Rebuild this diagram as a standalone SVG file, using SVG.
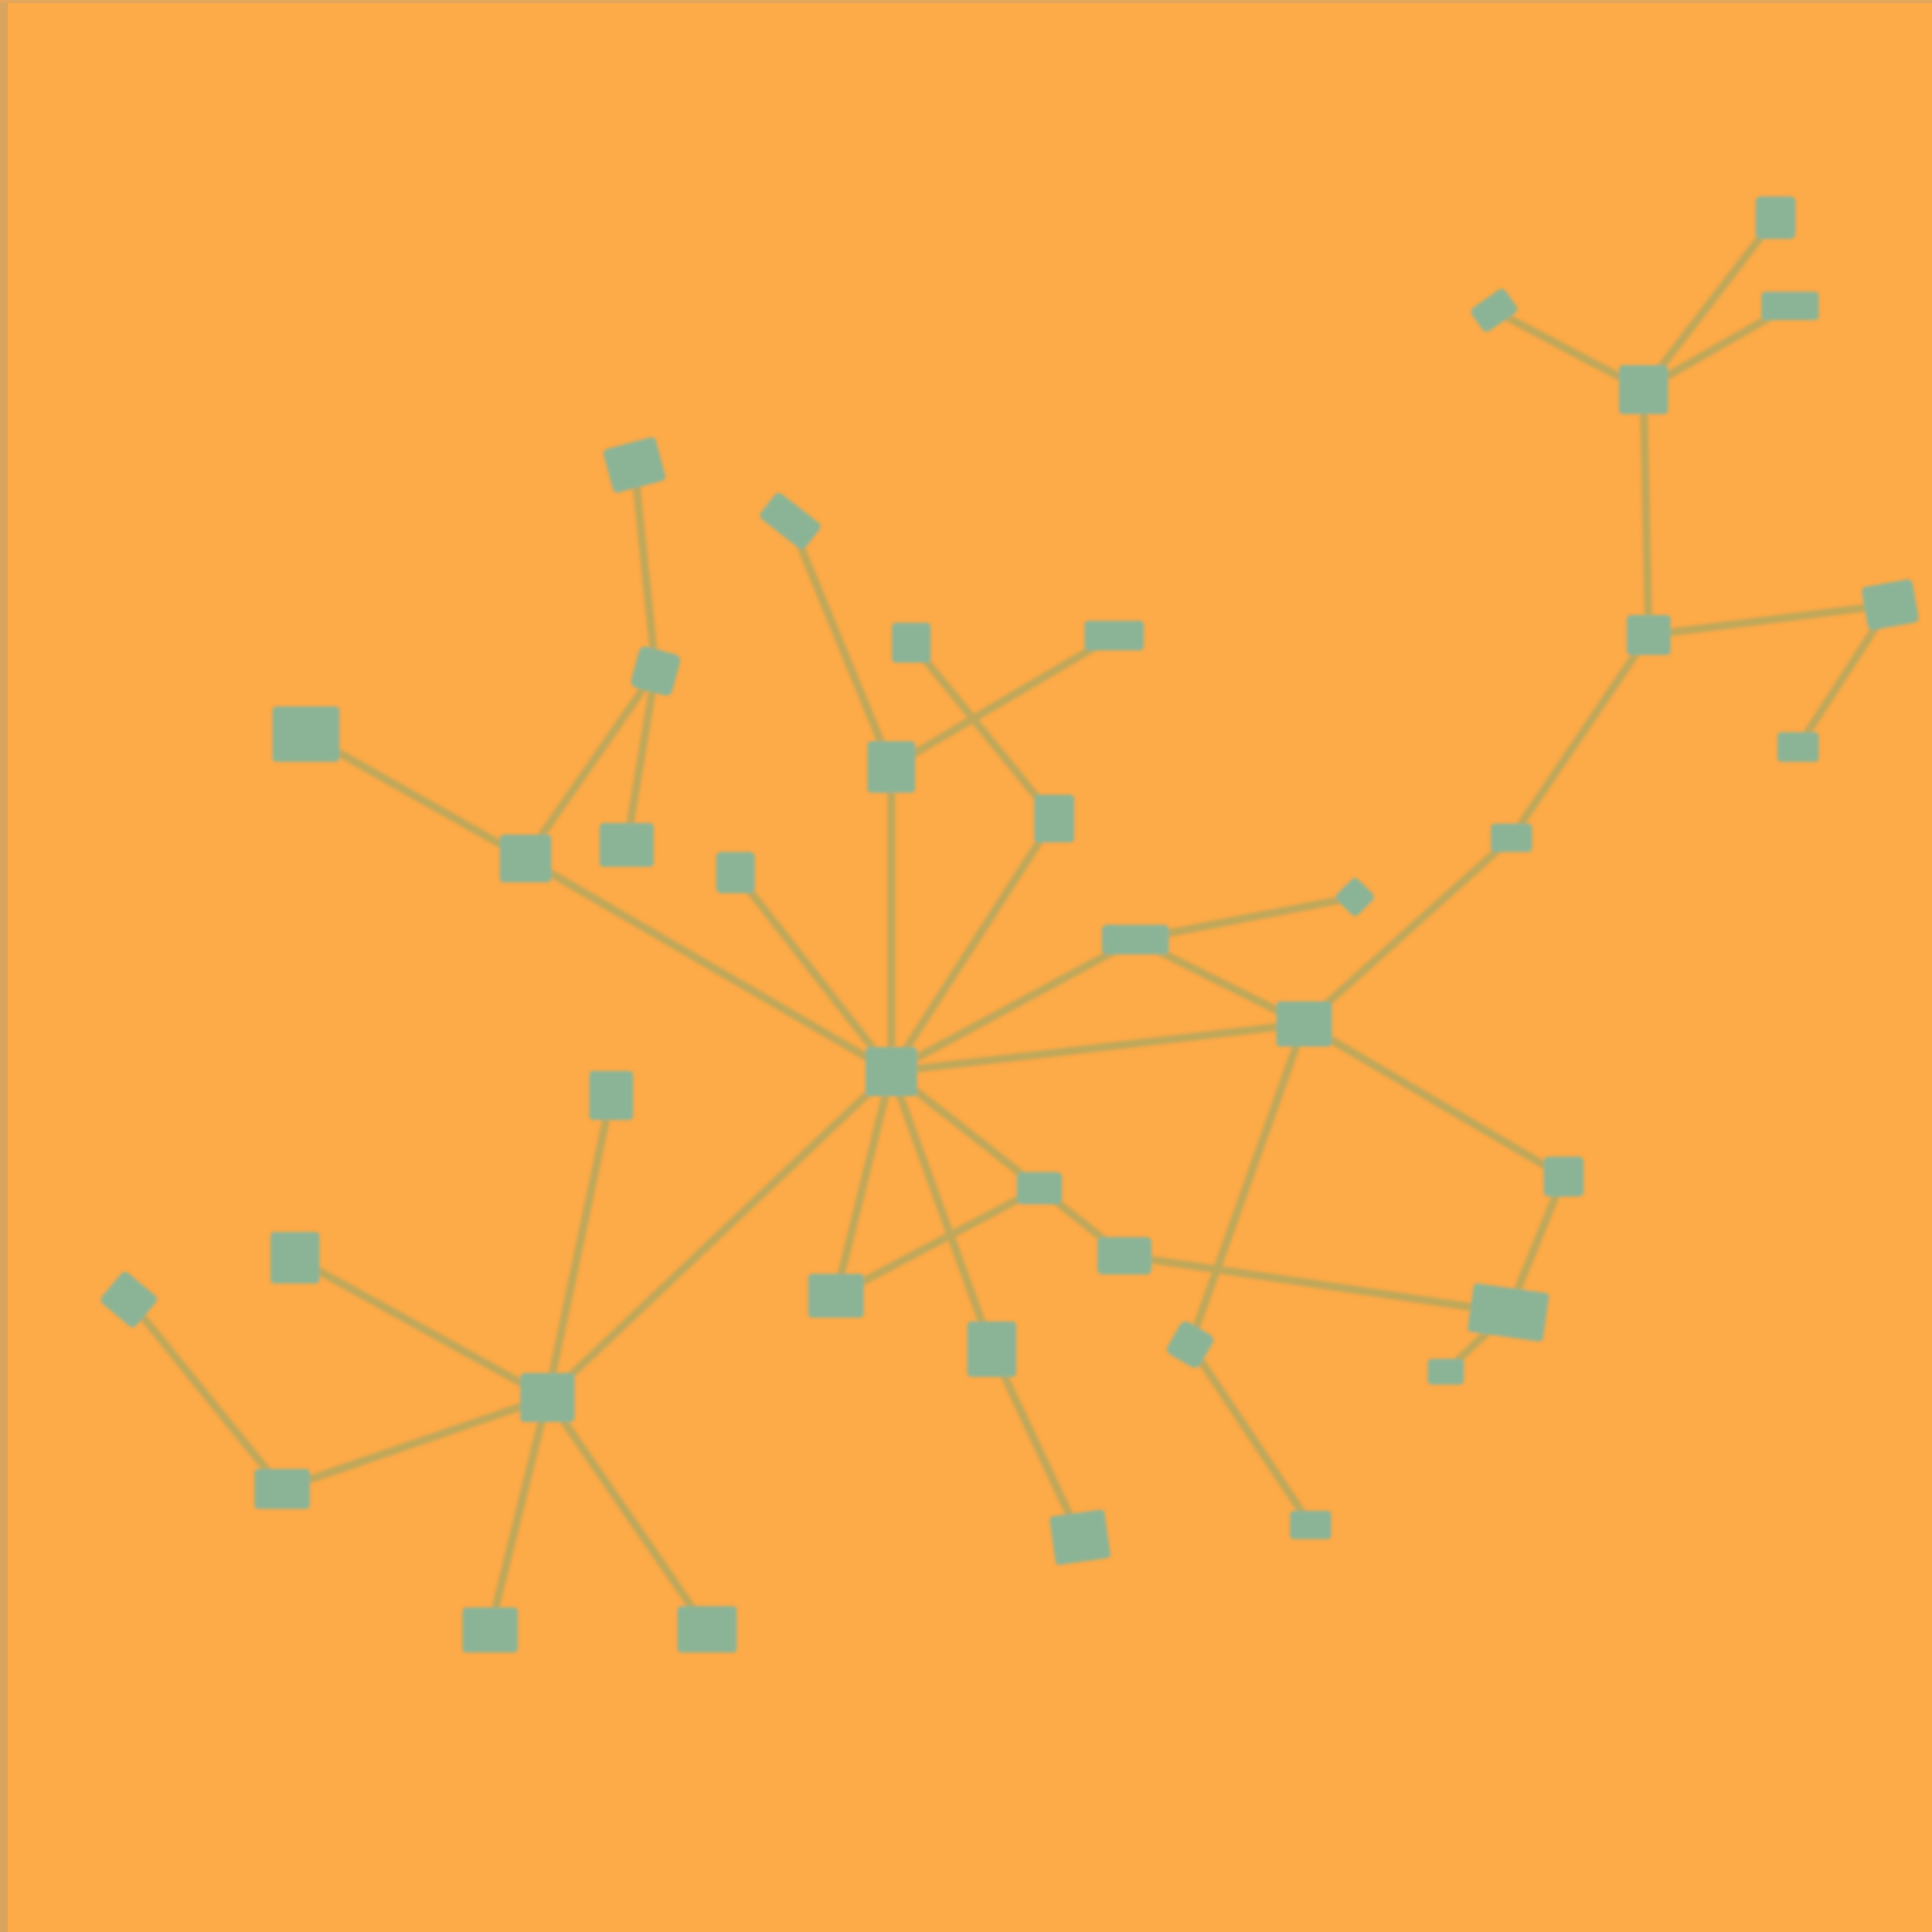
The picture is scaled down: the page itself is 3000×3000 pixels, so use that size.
<svg xmlns="http://www.w3.org/2000/svg" width="3000" height="3000" viewBox="0 0 3000 3000">
<defs>
<style>
.e{stroke:#C0A75A;stroke-width:12;stroke-linecap:round;fill:none}
.n{fill:#8BB496}
</style>
<filter id="soft" x="-5%" y="-5%" width="110%" height="110%"><feGaussianBlur stdDeviation="2.5"/></filter>
</defs>
<rect x="0" y="0" width="3000" height="3000" fill="#FDAA48"/>
<rect x="0" y="0" width="12" height="3000" fill="#D9A45E"/>
<rect x="0" y="0" width="3000" height="5" fill="#E3A65A"/>
<g filter="url(#soft)">
<g id="connectors">
<line class="e" x1="2552" y1="605" x2="2757" y2="338"/>
<line class="e" x1="2552" y1="605" x2="2320" y2="482"/>
<line class="e" x1="2552" y1="605" x2="2779" y2="475"/>
<line class="e" x1="2552" y1="605" x2="2560" y2="986"/>
<line class="e" x1="2560" y1="986" x2="2935" y2="939"/>
<line class="e" x1="2935" y1="939" x2="2792" y2="1160"/>
<line class="e" x1="2560" y1="986" x2="2347" y2="1301"/>
<line class="e" x1="2347" y1="1301" x2="2025" y2="1590"/>
<line class="e" x1="2025" y1="1590" x2="1763" y2="1459"/>
<line class="e" x1="1763" y1="1459" x2="2104" y2="1393"/>
<line class="e" x1="1763" y1="1459" x2="1384" y2="1664"/>
<line class="e" x1="2025" y1="1590" x2="1384" y2="1664"/>
<line class="e" x1="2025" y1="1590" x2="2428" y2="1827"/>
<line class="e" x1="2428" y1="1827" x2="2342" y2="2038"/>
<line class="e" x1="2342" y1="2038" x2="2245" y2="2130"/>
<line class="e" x1="1746" y1="1950" x2="2342" y2="2038"/>
<line class="e" x1="2025" y1="1590" x2="1848" y2="2088"/>
<line class="e" x1="1848" y1="2088" x2="2035" y2="2368"/>
<line class="e" x1="1384" y1="1664" x2="1614" y2="1845"/>
<line class="e" x1="1614" y1="1845" x2="1746" y2="1950"/>
<line class="e" x1="1614" y1="1845" x2="1298" y2="2012"/>
<line class="e" x1="1384" y1="1664" x2="1540" y2="2095"/>
<line class="e" x1="1540" y1="2095" x2="1677" y2="2387"/>
<line class="e" x1="1384" y1="1664" x2="1298" y2="2012"/>
<line class="e" x1="1384" y1="1664" x2="850" y2="2170"/>
<line class="e" x1="850" y1="2170" x2="949" y2="1701"/>
<line class="e" x1="850" y1="2170" x2="458" y2="1953"/>
<line class="e" x1="850" y1="2170" x2="438" y2="2312"/>
<line class="e" x1="438" y1="2312" x2="200" y2="2018"/>
<line class="e" x1="850" y1="2170" x2="761" y2="2531"/>
<line class="e" x1="850" y1="2170" x2="1098" y2="2530"/>
<line class="e" x1="1384" y1="1664" x2="816" y2="1333"/>
<line class="e" x1="816" y1="1333" x2="475" y2="1140"/>
<line class="e" x1="816" y1="1333" x2="1018" y2="1042"/>
<line class="e" x1="1018" y1="1042" x2="985" y2="722"/>
<line class="e" x1="1018" y1="1042" x2="973" y2="1312"/>
<line class="e" x1="1384" y1="1664" x2="1142" y2="1355"/>
<line class="e" x1="1384" y1="1664" x2="1384" y2="1191"/>
<line class="e" x1="1384" y1="1191" x2="1227" y2="809"/>
<line class="e" x1="1384" y1="1191" x2="1730" y2="987"/>
<line class="e" x1="1384" y1="1664" x2="1637" y2="1271"/>
<line class="e" x1="1637" y1="1271" x2="1415" y2="998"/>
</g>
<g id="C"><rect class="n" x="1344" y="1626" width="80" height="76" rx="6"/></g>
<g id="N1"><rect class="n" x="2726" y="305" width="62" height="66" rx="8"/></g>
<g id="N2"><rect class="n" x="-32" y="-22" width="64" height="44" rx="8" transform="translate(2320 482) rotate(-35)"/></g>
<g id="N3"><rect class="n" x="2735" y="453" width="89" height="44" rx="6"/></g>
<g id="N4"><rect class="n" x="2514" y="567" width="76" height="76" rx="6"/></g>
<g id="N5"><rect class="n" x="-42" y="-35" width="84" height="70" rx="7" transform="translate(985 722) rotate(-15)"/></g>
<g id="N6"><rect class="n" x="-44" y="-25" width="88" height="50" rx="8" transform="translate(1227 809) rotate(38)"/></g>
<g id="N7"><rect class="n" x="1385" y="967" width="60" height="62" rx="6"/></g>
<g id="N8"><rect class="n" x="1684" y="964" width="92" height="46" rx="6"/></g>
<g id="N9"><rect class="n" x="2526" y="955" width="68" height="62" rx="6"/></g>
<g id="N10"><rect class="n" x="-40" y="-34" width="80" height="68" rx="8" transform="translate(2935 939) rotate(-10)"/></g>
<g id="N11"><rect class="n" x="-33" y="-33" width="66" height="66" rx="10" transform="translate(1018 1042) rotate(15)"/></g>
<g id="N12"><rect class="n" x="423" y="1097" width="104" height="86" rx="6"/></g>
<g id="N13"><rect class="n" x="1347" y="1151" width="74" height="80" rx="6"/></g>
<g id="N14"><rect class="n" x="1606" y="1234" width="62" height="74" rx="6"/></g>
<g id="N15"><rect class="n" x="2760" y="1137" width="64" height="46" rx="6"/></g>
<g id="N16"><rect class="n" x="931" y="1278" width="84" height="68" rx="6"/></g>
<g id="N17"><rect class="n" x="776" y="1296" width="80" height="74" rx="6"/></g>
<g id="N18"><rect class="n" x="1112" y="1323" width="60" height="64" rx="8"/></g>
<g id="N19"><rect class="n" x="2315" y="1279" width="64" height="44" rx="6"/></g>
<g id="N20"><rect class="n" x="-23" y="-23" width="46" height="46" rx="8" transform="translate(2104 1393) rotate(45)"/></g>
<g id="N21"><rect class="n" x="1711" y="1436" width="104" height="46" rx="8"/></g>
<g id="N22"><rect class="n" x="1982" y="1555" width="86" height="70" rx="6"/></g>
<g id="N23"><rect class="n" x="915" y="1663" width="68" height="76" rx="6"/></g>
<g id="N24"><rect class="n" x="2397" y="1796" width="62" height="62" rx="8"/></g>
<g id="N25"><rect class="n" x="1579" y="1820" width="70" height="50" rx="8"/></g>
<g id="N26"><rect class="n" x="420" y="1913" width="76" height="80" rx="6"/></g>
<g id="N27"><rect class="n" x="-35" y="-31" width="70" height="62" rx="8" transform="translate(200 2018) rotate(40)"/></g>
<g id="N28"><rect class="n" x="1704" y="1921" width="84" height="58" rx="8"/></g>
<g id="N29"><rect class="n" x="1255" y="1978" width="86" height="68" rx="6"/></g>
<g id="N30"><rect class="n" x="-59" y="-38" width="118" height="76" rx="6" transform="translate(2342 2038) rotate(8)"/></g>
<g id="N31"><rect class="n" x="1502" y="2052" width="76" height="86" rx="6"/></g>
<g id="N32"><rect class="n" x="-29" y="-29" width="58" height="58" rx="10" transform="translate(1848 2088) rotate(30)"/></g>
<g id="N33"><rect class="n" x="2217" y="2110" width="56" height="40" rx="6"/></g>
<g id="N34"><rect class="n" x="808" y="2132" width="84" height="76" rx="6"/></g>
<g id="N35"><rect class="n" x="395" y="2281" width="86" height="62" rx="6"/></g>
<g id="N36"><rect class="n" x="-43" y="-38" width="86" height="76" rx="6" transform="translate(1677 2387) rotate(-8)"/></g>
<g id="N37"><rect class="n" x="2003" y="2346" width="64" height="44" rx="6"/></g>
<g id="N38"><rect class="n" x="718" y="2496" width="86" height="70" rx="6"/></g>
<g id="N39"><rect class="n" x="1052" y="2494" width="92" height="72" rx="6"/></g>
</g>
</svg>
